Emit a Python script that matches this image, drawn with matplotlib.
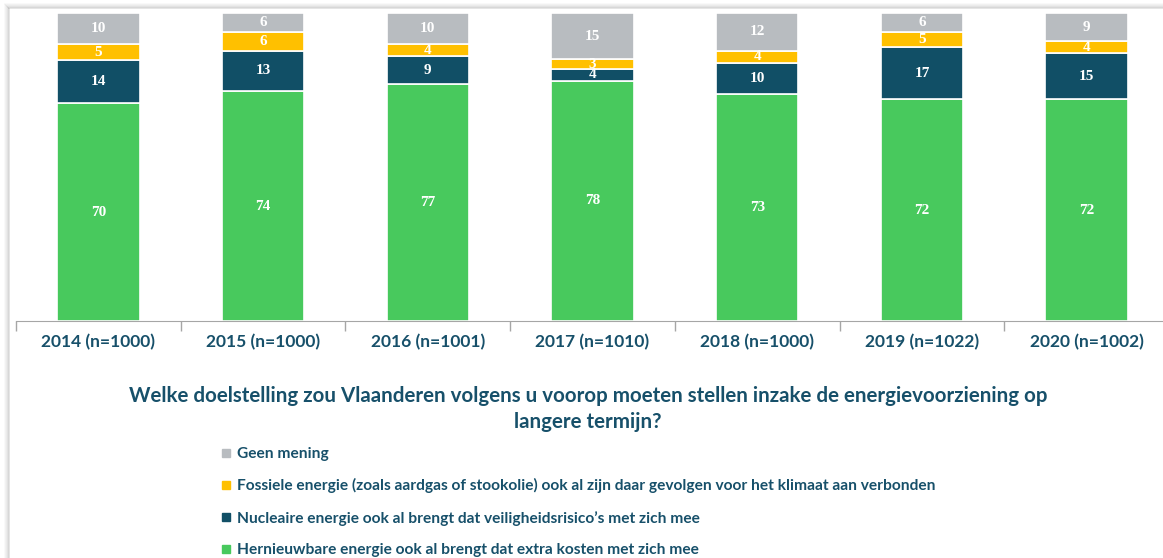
import matplotlib.pyplot as plt
from matplotlib.lines import Line2D
from matplotlib.patches import Rectangle
import numpy as np

# data (percentages)
years = ['2014 (n=1000)', '2015 (n=1000)', '2016 (n=1001)', '2017 (n=1010)',
         '2018 (n=1000)', '2019 (n=1022)', '2020 (n=1002)']
hernieuwbaar = [70, 74, 77, 78, 73, 72, 72]
nucleair = [14, 13, 9, 4, 10, 17, 15]
fossiel = [5, 6, 4, 3, 4, 5, 4]
geen_mening = [10, 6, 10, 15, 12, 6, 9]

series_names = ['Hernieuwbare energie ook al brengt dat extra kosten met zich mee',
                'Nucleaire energie ook al brengt dat veiligheidsrisico\u2019s met zich mee',
                'Fossiele energie (zoals aardgas of stookolie) ook al zijn daar gevolgen voor het klimaat aan verbonden',
                'Geen mening']
colors = ['#48c95d', '#114f66', '#ffc000', '#b8bcc0']
text_col = '#17506a'

title = ('Welke doelstelling zou Vlaanderen volgens u voorop moeten stellen inzake de energievoorziening op\n'
         'langere termijn?')

W, H = 1163, 558
fig = plt.figure(figsize=(W / 100, H / 100), dpi=100)

# frame with a soft shadow on top/left
for i, a in enumerate([0.05, 0.08, 0.12, 0.18, 0.25]):
    off = 6 - i
    fig.patches.append(Rectangle(((10 - off) / W, 0), 2 / W, (H - 10 + off) / H,
                                 transform=fig.transFigure, color='#9a9a9a', alpha=a, lw=0))
    fig.patches.append(Rectangle(((10 - off) / W, (H - 10 + off - 1) / H), 1, 2 / H,
                                 transform=fig.transFigure, color='#9a9a9a', alpha=a, lw=0))

ax = fig.add_axes([16 / W, 1 - 321 / H, 1153 / W, 307.7 / H])

data = np.array([hernieuwbaar, nucleair, fossiel, geen_mening], dtype=float)
pct = data / data.sum(axis=0) * 100
x = np.arange(len(years))
bottom = np.zeros(len(years))
for k in range(4):
    bars = ax.bar(x, pct[k], 0.5, bottom=bottom, color=colors[k],
                  edgecolor='white', linewidth=1.2)
    for j, b in enumerate(bars):
        ax.text(b.get_x() + b.get_width() / 2, bottom[j] + pct[k][j] / 2,
                str(int(data[k][j])), ha='center', va='center', color='white',
                fontsize=11, fontweight='bold', family='Liberation Serif')
    bottom += pct[k]

ax.set_xlim(-0.5, 6.5)
ax.set_ylim(0, 100)
ax.set_yticks([])
ax.set_xticks(x)
ax.set_xticklabels(years, fontsize=12.5, fontweight='bold', color=text_col, family='Lato')
ax.tick_params(axis='x', which='major', length=0, pad=9)
ax.set_xticks(np.arange(-0.5, 7, 1), minor=True)
ax.tick_params(axis='x', which='minor', length=7, color='#a6a6a6', width=1)
for s in ['top', 'right', 'left']:
    ax.spines[s].set_visible(False)
ax.spines['bottom'].set_color('#a6a6a6')

fig.text(588 / W, 1 - 409 / H, title, ha='center', va='center', fontsize=14.8,
         fontweight='bold', color=text_col, family='Lato', linespacing=1.35)

handles = [Line2D([], [], marker='s', ls='', color=colors[k], markersize=6)
           for k in [3, 2, 1, 0]]
labels = [series_names[k] for k in [3, 2, 1, 0]]
leg = fig.legend(handles, labels, loc='upper left', bbox_to_anchor=(207 / W, 1 - 433 / H),
                 frameon=False, handlelength=0.6, handletextpad=0.45, labelspacing=1.12,
                 prop={'family': 'Lato', 'weight': 'bold', 'size': 11.2})
for t in leg.get_texts():
    t.set_color(text_col)

fig.savefig('out.png', dpi=100)
